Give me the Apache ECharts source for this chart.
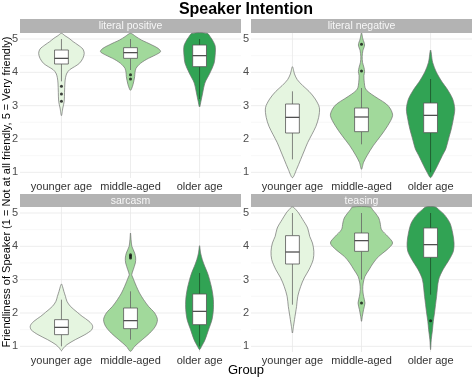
<!DOCTYPE html>
<html><head><meta charset="utf-8">
<script src="https://cdn.jsdelivr.net/npm/echarts@6/dist/echarts.min.js"></script>
<style>html,body{margin:0;padding:0;background:#fff}#c{width:474px;height:379px}</style>
</head><body><div id="c"></div>
<script>
const groups = ['younger age', 'middle-aged', 'older age'];
const facets = ['literal positive', 'literal negative', 'sarcasm', 'teasing'];
const yTicks = [1, 2, 3, 4, 5];
const yMinor = [1.5, 2.5, 3.5, 4.5];
const fills = ['#e5f5e0', '#a1d99b', '#31a354'];

// violin outlines: [friendliness value, half-width in group units]
const posYounger = [[2.70,0],[2.93,0.02],[3.13,0.04],[3.4,0.045],[3.68,0.05],[3.85,0.06],[3.98,0.08],[4.08,0.12],[4.17,0.19],[4.27,0.26],[4.42,0.31],[4.57,0.33],[4.7,0.31],[4.82,0.24],[4.92,0.17],[5.02,0.11],[5.1,0.05],[5.17,0]];
const posMiddle = [[3.46,0],[3.63,0.036],[3.87,0.06],[4.0,0.065],[4.12,0.08],[4.2,0.11],[4.27,0.145],[4.35,0.2],[4.42,0.26],[4.52,0.36],[4.62,0.435],[4.72,0.4],[4.82,0.31],[4.9,0.23],[4.97,0.157],[5.07,0.08],[5.17,0]];
const posOlder = [[2.96,0],[3.13,0.02],[3.38,0.045],[3.68,0.077],[3.98,0.15],[4.27,0.21],[4.5,0.225],[4.67,0.23],[4.8,0.225],[4.92,0.2],[5.05,0.16],[5.17,0.11]];

const negYounger = [[0.84,0],[1.09,0.06],[1.39,0.12],[1.64,0.17],[1.89,0.22],[2.13,0.28],[2.38,0.34],[2.65,0.38],[2.94,0.39],[3.2,0.33],[3.43,0.24],[3.6,0.15],[3.78,0.07],[3.95,0.03],[4.17,0]];
const negMiddle = [[1.09,0],[1.3,0.03],[1.5,0.08],[1.8,0.17],[2.1,0.28],[2.4,0.38],[2.7,0.45],[2.9,0.42],[3.05,0.36],[3.2,0.25],[3.35,0.14],[3.5,0.06],[3.7,0.04],[3.9,0.035],[4.02,0.045],[4.15,0.035],[4.3,0.015],[4.47,0.01],[4.65,0.02],[4.82,0.045],[5.0,0.02],[5.18,0]];
const negOlder = [[0.84,0],[1.0,0.05],[1.2,0.1],[1.5,0.17],[1.7,0.22],[2.0,0.26],[2.3,0.3],[2.6,0.33],[2.9,0.35],[3.2,0.32],[3.5,0.24],[3.7,0.17],[4.0,0.085],[4.3,0.03],[4.67,0]];

const sarYounger = [[0.87,0],[0.95,0.03],[1.05,0.08],[1.2,0.2],[1.35,0.34],[1.5,0.44],[1.62,0.45],[1.75,0.4],[1.9,0.3],[2.02,0.23],[2.2,0.13],[2.35,0.08],[2.5,0.058],[2.65,0.035],[2.8,0.015],[2.87,0]];
const sarMiddle = [[0.85,0],[1.0,0.06],[1.2,0.17],[1.4,0.28],[1.6,0.36],[1.8,0.39],[2.0,0.35],[2.2,0.26],[2.4,0.19],[2.6,0.13],[2.8,0.085],[2.95,0.055],[3.08,0.03],[3.15,0.018],[3.3,0.04],[3.5,0.07],[3.65,0.075],[3.8,0.06],[4.0,0.02],[4.2,0.008],[4.4,0]];
const sarOlder = [[0.9,0],[1.0,0.03],[1.2,0.08],[1.5,0.13],[1.8,0.18],[2.1,0.2],[2.4,0.2],[2.7,0.18],[3.0,0.145],[3.2,0.115],[3.4,0.075],[3.6,0.04],[3.8,0.015],[4.02,0]];

const teaYounger = [[1.4,0],[1.6,0.015],[1.8,0.03],[2.0,0.045],[2.2,0.06],[2.5,0.077],[2.8,0.12],[3.05,0.17],[3.3,0.24],[3.6,0.3],[3.85,0.31],[4.1,0.29],[4.3,0.25],[4.55,0.22],[4.8,0.15],[5.0,0.09],[5.1,0.05],[5.18,0.01]];
const teaMiddle = [[1.75,0],[1.9,0.012],[2.1,0.03],[2.3,0.05],[2.5,0.03],[2.7,0.018],[2.9,0.025],[3.1,0.05],[3.3,0.11],[3.5,0.17],[3.7,0.25],[3.9,0.37],[4.1,0.45],[4.3,0.38],[4.5,0.29],[4.7,0.27],[4.85,0.25],[5.0,0.2],[5.1,0.16],[5.18,0.13]];
const teaOlder = [[0.9,0],[1.2,0.01],[1.5,0.028],[1.75,0.04],[2.0,0.057],[2.5,0.087],[3.0,0.117],[3.3,0.18],[3.6,0.27],[3.85,0.33],[4.1,0.34],[4.4,0.32],[4.7,0.28],[4.95,0.2],[5.1,0.12],[5.18,0.07]];

// box stats: [lower whisker, Q1, median, Q3, upper whisker]
const posBox = [[3.73,4.25,4.42,4.67,5.0],[4.07,4.42,4.59,4.74,5.0],[3.2,4.17,4.5,4.82,5.0]];
const negBox = [[1.39,2.18,2.65,3.05,3.43],[1.84,2.22,2.66,2.93,3.53],[1.0,2.19,2.71,3.08,3.8]];
const sarBox = [[1.0,1.35,1.57,1.8,2.4],[1.2,1.53,1.77,2.15,2.65],[1.0,1.65,2.05,2.57,3.2]];
const teaBox = [[2.25,3.47,3.83,4.32,5.0],[3.0,3.85,4.17,4.4,5.0],[2.55,3.67,4.05,4.55,5.0]];

// outliers: [group index, value]
const posOut = [[0,3.58],[0,3.35],[0,3.13],[1,3.93],[1,3.80]];
const negOut = [[1,4.84],[1,4.04]];
const sarOut = [[1,3.65],[1,3.70],[1,3.75]];
const teaOut = [[1,2.3],[2,1.77]];

const violins = [[posYounger,posMiddle,posOlder],[negYounger,negMiddle,negOlder],[sarYounger,sarMiddle,sarOlder],[teaYounger,teaMiddle,teaOlder]];
const boxes = [posBox, negBox, sarBox, teaBox];
const outs = [posOut, negOut, sarOut, teaOut];

const FONT = 'Liberation Sans, Arial, sans-serif';
const panels = [{l:20,t:33},{l:251,t:33},{l:20,t:207},{l:251,t:207}];
const PW = 221, PH = 145;
const stripTop = [19, 19, 194, 194];
const stripH = [14, 14, 13, 13];

const grids = [], xAxes = [], yAxes = [], series = [], graphics = [];
panels.forEach((p, k) => {
  grids.push({left:p.l, top:p.t, width:PW, height:PH, containLabel:false});
  xAxes.push({type:'value', gridIndex:k, min:-0.6, max:2.6,
    axisLine:{show:false}, axisTick:{show:false}, splitLine:{show:false},
    axisLabel:{customValues:[0,1,2], formatter:v => groups[Math.round(v)] || '', margin:3,
      color:'#333', fontSize:11, fontFamily:FONT}});
  yAxes.push({type:'value', gridIndex:k, min:0.83, max:5.18,
    axisLine:{show:false}, axisTick:{show:false}, splitLine:{show:false},
    axisLabel:{customValues:yTicks, formatter:v => (Number.isInteger(v) ? String(v) : ''), margin:2,
      color:'#4d4d4d', fontSize:11, fontFamily:FONT}});
  // grid lines
  series.push({type:'custom', xAxisIndex:k, yAxisIndex:k, z:0, silent:true, data:[[0,3]],
    renderItem:(params, api) => {
      const cs = params.coordSys;
      const ch = [];
      yMinor.forEach(v => { const y = api.coord([0, v])[1];
        ch.push({type:'line', shape:{x1:cs.x, y1:y, x2:cs.x+cs.width, y2:y}, style:{stroke:'#f3f3f3', lineWidth:0.6}}); });
      yTicks.forEach(v => { const y = api.coord([0, v])[1];
        ch.push({type:'line', shape:{x1:cs.x, y1:y, x2:cs.x+cs.width, y2:y}, style:{stroke:'#e9e9e9', lineWidth:0.8}}); });
      [0,1,2].forEach(g => { const x = api.coord([g, 3])[0];
        ch.push({type:'line', shape:{x1:x, y1:cs.y, x2:x, y2:cs.y+cs.height}, style:{stroke:'#e9e9e9', lineWidth:0.8}}); });
      return {type:'group', children:ch};
    }});
  // violins
  const prof = violins[k];
  series.push({type:'custom', xAxisIndex:k, yAxisIndex:k, z:2, silent:true, data:[[0,3],[1,3],[2,3]],
    renderItem:(params, api) => {
      const i = params.dataIndex, pr = prof[i];
      const pts = [];
      pr.forEach(([v, w]) => pts.push(api.coord([i - w, v])));
      for (let j = pr.length - 1; j >= 0; j--) { if (pr[j][1] > 0) pts.push(api.coord([i + pr[j][1], pr[j][0]])); }
      return {type:'polygon', shape:{points:pts, smooth:0.3}, style:{fill:fills[i], stroke:'#707070', lineWidth:0.7}};
    }});
  // boxes
  const bx = boxes[k];
  series.push({type:'custom', xAxisIndex:k, yAxisIndex:k, z:3, silent:true, data:[[0,3],[1,3],[2,3]],
    renderItem:(params, api) => {
      const i = params.dataIndex; const [lo, q1, med, q3, hi] = bx[i]; const hw = 0.1;
      const c = api.coord([i, lo]), d = api.coord([i, hi]);
      const a = api.coord([i - hw, q3]), b = api.coord([i + hw, q1]);
      const m = api.coord([i, med])[1];
      const wc = i === 2 ? '#1d4d2a' : '#666';
      return {type:'group', children:[
        {type:'line', shape:{x1:c[0], y1:c[1], x2:c[0], y2:b[1]}, style:{stroke:wc, lineWidth:0.8}},
        {type:'line', shape:{x1:d[0], y1:a[1], x2:d[0], y2:d[1]}, style:{stroke:wc, lineWidth:0.8}},
        {type:'rect', shape:{x:a[0], y:a[1], width:b[0]-a[0], height:b[1]-a[1]}, style:{fill:'#fff', stroke:'#555', lineWidth:0.8}},
        {type:'line', shape:{x1:a[0], y1:m, x2:b[0], y2:m}, style:{stroke:'#444', lineWidth:1.2}}
      ]};
    }});
  series.push({type:'scatter', xAxisIndex:k, yAxisIndex:k, z:4, silent:true, data:outs[k],
    symbolSize:3, itemStyle:{color:'#111'}});
  graphics.push({type:'rect', left:p.l, top:stripTop[k], shape:{width:PW, height:stripH[k]}, style:{fill:'#b3b3b3'}});
  graphics.push({type:'text', x:p.l + PW/2, y:stripTop[k] + stripH[k]/2 + 0.5,
    style:{text:facets[k], fill:'#f7f7f7', font:'10.5px ' + FONT, textAlign:'center', textVerticalAlign:'middle'}});
});

graphics.push({type:'text', x:246, y:9.5, style:{text:'Speaker Intention', fill:'#000', font:'bold 16px ' + FONT, textAlign:'center', textVerticalAlign:'middle'}});
graphics.push({type:'text', x:246, y:370, style:{text:'Group', fill:'#000', font:'13px ' + FONT, textAlign:'center', textVerticalAlign:'middle'}});
graphics.push({type:'text', x:7, y:192, rotation:Math.PI/2,
  style:{text:'Friendliness of Speaker (1 = Not at all friendly, 5 = Very friendly)', fill:'#000', font:'11px ' + FONT, textAlign:'center', textVerticalAlign:'middle'}});

const chart = echarts.init(document.getElementById('c'), null, {renderer:'canvas'});
chart.setOption({animation:false, backgroundColor:'#fff', grid:grids, xAxis:xAxes, yAxis:yAxes, series:series, graphic:graphics});
</script></body></html>
